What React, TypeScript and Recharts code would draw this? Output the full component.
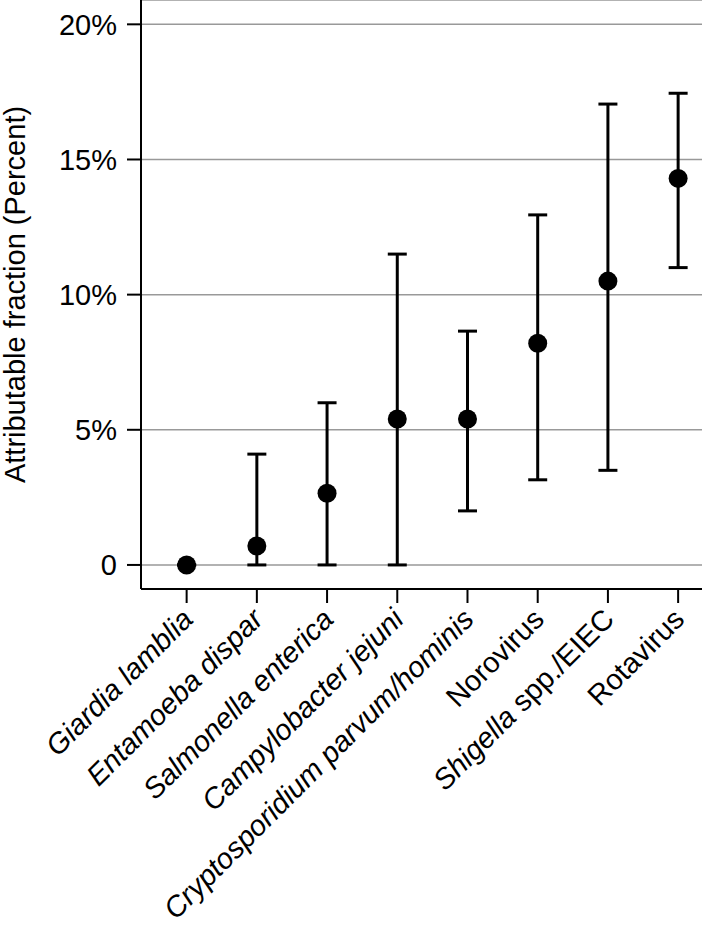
import { ScatterChart, Scatter, XAxis, YAxis, CartesianGrid, ErrorBar } from 'recharts';

// pathogen labels, split into italic and upright parts
const italicParts = ['Giardia lamblia', 'Entamoeba dispar', 'Salmonella enterica', 'Campylobacter jejuni', 'Cryptosporidium parvum/hominis', '', 'Shigella', ''];
const plainParts = ['', '', '', '', '', 'Norovirus', ' spp./EIEC', 'Rotavirus'];

// attributable fraction (%) with 95% CI
const pointValues = [0, 0.7, 2.65, 5.4, 5.4, 8.2, 10.5, 14.3];
const lowerBounds = [0, 0, 0, 0, 2.0, 3.15, 3.5, 11.0];
const upperBounds = [0, 4.1, 6.0, 11.5, 8.65, 12.95, 17.05, 17.45];

const yTicks = [0, 5, 10, 15, 20];
const xTicks = [0, 1, 2, 3, 4, 5, 6, 7];

const FONT = '"Liberation Sans", Arial, Helvetica, sans-serif';
const FS = 29;

const data = pointValues.map((v, i) => ({
    idx: i,
    value: v,
    err: [v - lowerBounds[i], upperBounds[i] - v],
}));

const XTick = (props: any) => {
    const { x, y, payload } = props;
    const i = payload.value;
    return (
        <g transform={`translate(${x + 8},${y + 18}) rotate(-45)`}>
            <text x={0} y={0} textAnchor="end" fill="#000" fontSize={FS} fontFamily={FONT}>
                {italicParts[i] ? <tspan fontStyle="italic">{italicParts[i]}</tspan> : null}
                {plainParts[i] ? <tspan>{plainParts[i]}</tspan> : null}
            </text>
        </g>
    );
};

const Dot = (props: any) => <circle cx={props.cx} cy={props.cy} r={9.5} fill="#000" />;

export default function App() {
    return (
        <div style={{ position: 'absolute', left: 0, top: 0, background: '#fff' }}>
            <ScatterChart width={703} height={929} margin={{ top: 0, right: 1, bottom: 0, left: 0 }}>
                <CartesianGrid vertical={false} stroke="#999" strokeWidth={1.5} />
                <XAxis
                    type="number"
                    dataKey="idx"
                    domain={[-0.65, 7.34]}
                    ticks={xTicks}
                    interval={0}
                    height={340}
                    tickSize={14}
                    tickMargin={0}
                    axisLine={{ stroke: '#000', strokeWidth: 2 }}
                    tickLine={{ stroke: '#000', strokeWidth: 2 }}
                    tick={<XTick />}
                />
                <YAxis
                    type="number"
                    dataKey="value"
                    domain={[-0.89, 20.9]}
                    ticks={yTicks}
                    allowDataOverflow
                    width={141}
                    tickSize={14}
                    tickMargin={10}
                    axisLine={{ stroke: '#000', strokeWidth: 2 }}
                    tickLine={{ stroke: '#000', strokeWidth: 2 }}
                    tick={{ fill: '#000', fontSize: FS, fontFamily: FONT }}
                    tickFormatter={(v: number) => (v === 0 ? '0' : `${v}%`)}
                    label={{
                        value: 'Attributable fraction (Percent)',
                        angle: -90,
                        position: 'insideLeft',
                        offset: 15,
                        style: { textAnchor: 'middle', fill: '#000', fontSize: FS, fontFamily: FONT },
                    }}
                />
                <Scatter data={data} fill="#000" shape={<Dot />} isAnimationActive={false}>
                    <ErrorBar dataKey="err" direction="y" width={9.5} stroke="#000" strokeWidth={3} />
                </Scatter>
            </ScatterChart>
        </div>
    );
}
